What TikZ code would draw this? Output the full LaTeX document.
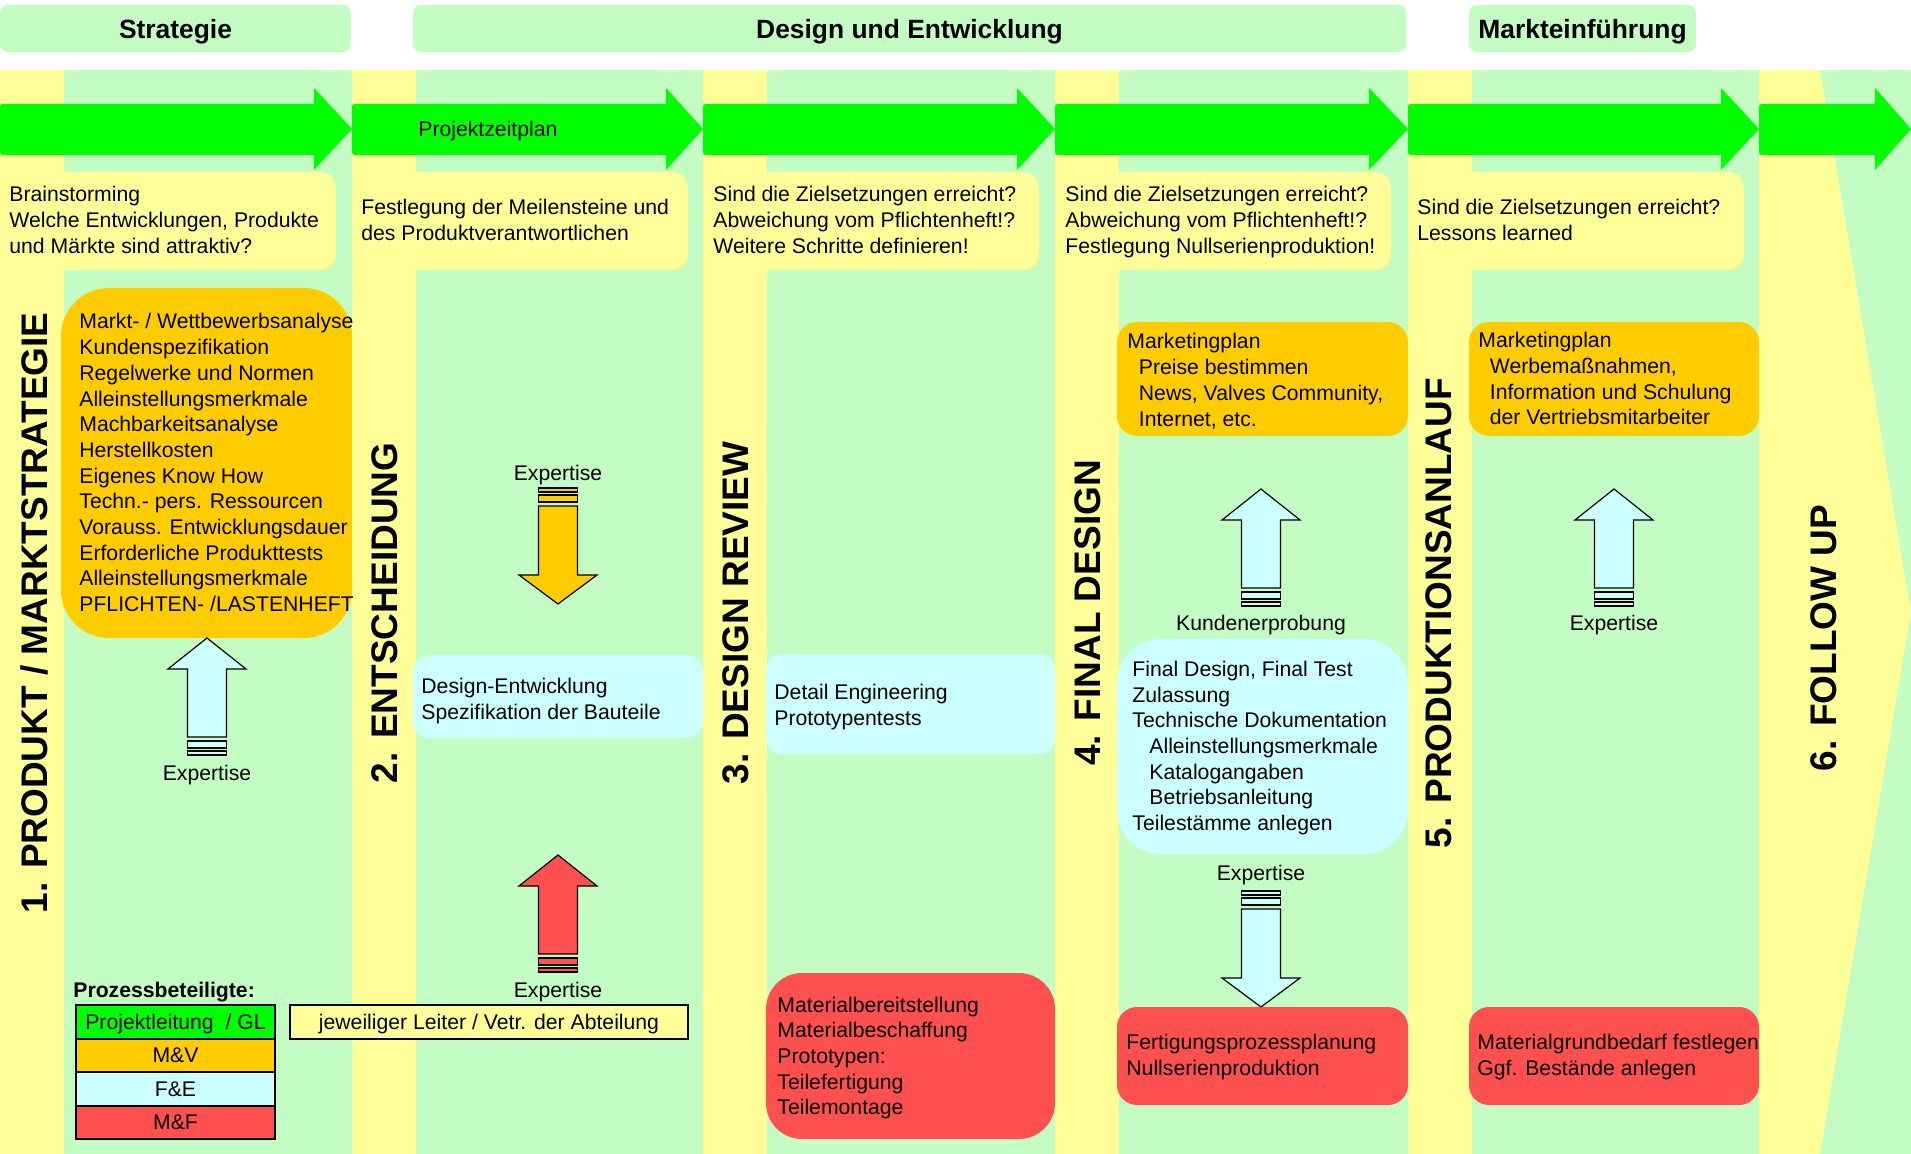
\documentclass[tikz,border=0pt]{standalone}
\usepackage{fontspec}
\setmainfont{Liberation Sans}
\definecolor{bggreen}{RGB}{196,253,196}
\definecolor{lyellow}{RGB}{255,255,153}
\definecolor{agreen}{RGB}{0,255,0}
\definecolor{orng}{RGB}{255,204,0}
\definecolor{lcyan}{RGB}{204,255,255}
\definecolor{rred}{RGB}{255,80,80}

\newcommand{\GArrow}[3]{\fill[agreen] (#1,110) .. controls (#1,104) .. ({#1+6},104) -- (#2,104) -- (#2,88) -- (#3,129) -- (#2,170) -- (#2,155) -- ({#1+6},155) .. controls (#1,155) .. (#1,149) -- cycle;}
\newcommand{\ExpUp}[3]{%
  \filldraw[fill=#3, arrline] (#1,#2) -- ({#1+39},{#2+31}) -- ({#1+19.5},{#2+31}) -- ({#1+19.5},{#2+99}) -- ({#1-19.5},{#2+99}) -- ({#1-19.5},{#2+31}) -- ({#1-39},{#2+31}) -- cycle;
  \filldraw[fill=#3, arrline] ({#1-19.5},{#2+103}) rectangle ({#1+19.5},{#2+110});
  \filldraw[fill=#3, arrline] ({#1-19.5},{#2+113}) rectangle ({#1+19.5},{#2+117});}
\newcommand{\ExpDown}[3]{%
  \filldraw[fill=#3, arrline] (#1,#2) -- ({#1+39},{#2-29}) -- ({#1+19.5},{#2-29}) -- ({#1+19.5},{#2-98}) -- ({#1-19.5},{#2-98}) -- ({#1-19.5},{#2-29}) -- ({#1-39},{#2-29}) -- cycle;
  \filldraw[fill=#3, arrline] ({#1-19.5},{#2-102}) rectangle ({#1+19.5},{#2-109});
  \filldraw[fill=#3, arrline] ({#1-19.5},{#2-112}) rectangle ({#1+19.5},{#2-116});}

\begin{document}
\begin{tikzpicture}[x=0.5pt,y=-0.5pt,
  txt/.style={font=\fontsize{10.6}{12.85}\selectfont, align=left, inner sep=0pt, anchor=west,
    execute at begin node=\strut, execute at end node=\strut},
  ctxt/.style={font=\fontsize{10.6}{12.85}\selectfont, inner sep=0pt,
    execute at begin node=\strut, execute at end node=\strut},
  hdr/.style={font=\fontsize{13.2}{16}\selectfont\bfseries, inner sep=0pt, text height=9.45pt, text depth=0pt},
  vtitle/.style={font=\fontsize{18.5}{22}\selectfont\bfseries, rotate=90, inner sep=0pt},
  arrline/.style={draw=black, line width=0.6pt, line join=miter},
  legbox/.style={draw=black, line width=1pt, minimum width=99.5pt, minimum height=16.75pt, inner sep=0pt,
    text height=7.6pt, text depth=0pt, font=\fontsize{10.6}{12.85}\selectfont}
]
\fill[white] (0,0) rectangle (1911,1154);
\useasboundingbox (0,0) rectangle (1911,1154);

% headers
\fill[bggreen, rounded corners=4pt] (0,5) rectangle (351,52);
\node[hdr] (hStrat) at (175.5,29) {Strategie};
\fill[bggreen, rounded corners=4pt] (413,5) rectangle (1406,52);
\node[hdr] (hDesign) at (909.5,29) {Design und Entwicklung};
\fill[bggreen, rounded corners=4pt] (1469,5) rectangle (1696,52);
\node[hdr] (hMarkt) at (1582.5,29) {Markteinführung};

% band and strips
\fill[bggreen] (0,70) rectangle (1911,1154);
\foreach \xx in {0,352,703,1055,1408} \fill[lyellow] (\xx,70) rectangle ({\xx+64},1154);
\fill[lyellow] (1759,70) -- (1820,70) -- (1911,612) -- (1820,1154) -- (1759,1154) -- cycle;

% green arrows
\GArrow{0}{314}{352}
\GArrow{352}{666}{703}
\GArrow{703}{1017}{1055}
\GArrow{1055}{1369}{1408}
\GArrow{1408}{1721}{1759}
\GArrow{1759}{1875}{1911}
\node[txt] (pzp) at (418,131.5) {Projektzeitplan};

% yellow text boxes
\foreach \xx in {0,352,703,1055,1408} \fill[lyellow, rounded corners=8pt] (\xx,172) rectangle ({\xx+336},270);
\node[txt] (y1) at (9,223.5) {Brainstorming\\Welche Entwicklungen, Produkte\\und Märkte sind attraktiv?};
\node[txt] (y2) at (361,223.5) {Festlegung der Meilensteine und\\des Produktverantwortlichen};
\node[txt] (y3) at (713,223.5) {Sind die Zielsetzungen erreicht?\\Abweichung vom Pflichtenheft!?\\Weitere Schritte definieren!};
\node[txt] (y4) at (1065,223.5) {Sind die Zielsetzungen erreicht?\\Abweichung vom Pflichtenheft!?\\Festlegung Nullserienproduktion!};
\node[txt] (y5) at (1417,223.5) {Sind die Zielsetzungen erreicht?\\Lessons learned};

% vertical titles
\node[vtitle] (t1) at (34,613) {1. PRODUKT / MARKTSTRATEGIE};
\node[vtitle] (t2) at (385,613) {2. ENTSCHEIDUNG};
\node[vtitle] (t3) at (736,613) {3. DESIGN REVIEW};
\node[vtitle] (t4) at (1088,613) {4. FINAL DESIGN};
\node[vtitle] (t5) at (1439,613) {5. PRODUKTIONSANLAUF};
\node[vtitle] (t6) at (1824,638) {6. FOLLOW UP};

% column 1
\fill[orng, rounded corners=24pt] (61,288) rectangle (352,638);
\begin{scope}
\clip (0,280) rectangle (352,650);
\node[txt] (o1) at (79,466.5) {Markt- / Wettbewerbsanalyse\\Kundenspezifikation\\Regelwerke und Normen\\Alleinstellungsmerkmale\\Machbarkeitsanalyse\\Herstellkosten\\Eigenes Know How\\Techn.- pers. Ressourcen\\Vorauss. Entwicklungsdauer\\Erforderliche Produkttests\\Alleinstellungsmerkmale\\PFLICHTEN- /LASTENHEFT};
\end{scope}
\ExpUp{207}{638}{lcyan}
\node[ctxt] (e1) at (207,775.5) {Expertise};

% column 2
\node[ctxt] (e2a) at (558,475.5) {Expertise};
\ExpDown{558}{604}{orng}
\fill[lcyan, rounded corners=8.5pt] (413,655) rectangle (703,738);
\node[txt] (b2) at (421,703) {Design-Entwicklung\\Spezifikation der Bauteile};
\ExpUp{558}{855}{rred}
\node[ctxt] (e2b) at (558,992.5) {Expertise};

% column 3
\fill[lcyan, rounded corners=8pt] (766,654) rectangle (1055,754);
\node[txt] (b3) at (774,709) {Detail Engineering\\Prototypentests};
\fill[rred, rounded corners=18pt] (766,973) rectangle (1055,1139);
\node[txt] (r3) at (777,1059.7) {Materialbereitstellung\\Materialbeschaffung\\Prototypen:\\Teilefertigung\\Teilemontage};

% column 4
\fill[orng, rounded corners=10pt] (1117,322) rectangle (1408,436);
\node[txt] (o4) at (1127,383.7) {Marketingplan\\\hspace*{5.75pt}Preise bestimmen\\\hspace*{5.75pt}News, Valves Community,\\\hspace*{5.75pt}Internet, etc.};
\ExpUp{1261}{489}{lcyan}
\node[ctxt] (k4) at (1261,625.5) {Kundenerprobung};
\fill[lcyan, rounded corners=22pt] (1117,639) rectangle (1408,854);
\node[txt] (b4) at (1132,749.7) {Final Design, Final Test\\Zulassung\\Technische Dokumentation\\\hspace*{8.5pt}Alleinstellungsmerkmale\\\hspace*{8.5pt}Katalogangaben\\\hspace*{8.5pt}Betriebsanleitung\\Teilestämme anlegen};
\node[ctxt] (e4) at (1261,875.5) {Expertise};
\ExpDown{1261}{1007}{lcyan}
\fill[rred, rounded corners=10pt] (1117,1007) rectangle (1408,1105);
\node[txt] (r4) at (1126,1058.5) {Fertigungsprozessplanung\\Nullserienproduktion};

% column 5
\fill[orng, rounded corners=10pt] (1469,322) rectangle (1759,436);
\node[txt] (o5) at (1478,382.5) {Marketingplan\\\hspace*{5.75pt}Werbemaßnahmen,\\\hspace*{5.75pt}Information und Schulung\\\hspace*{5.75pt}der Vertriebsmitarbeiter};
\ExpUp{1614}{489}{lcyan}
\node[ctxt] (e5) at (1614,625.5) {Expertise};
\fill[rred, rounded corners=10pt] (1469,1007) rectangle (1759,1105);
\node[txt] (r5) at (1477,1058.5) {Materialgrundbedarf festlegen\\Ggf. Bestände anlegen};

% legend
\node[txt, font=\fontsize{10.6}{12.85}\selectfont\bfseries] (leg) at (73,992.5) {Prozessbeteiligte:};
\node[legbox, fill=agreen] (l1) at (175.5,1021.75) {Projektleitung\ \ / GL};
\node[legbox, fill=orng] (l2) at (175.5,1055.25) {M\&V};
\node[legbox, fill=lcyan] (l3) at (175.5,1088.75) {F\&E};
\node[legbox, fill=rred] (l4) at (175.5,1122.25) {M\&F};
\node[legbox, fill=lyellow, minimum width=199pt, minimum height=17pt] (jl) at (489,1022) {jeweiliger Leiter / Vetr. der Abteilung};
\end{tikzpicture}
\end{document}
